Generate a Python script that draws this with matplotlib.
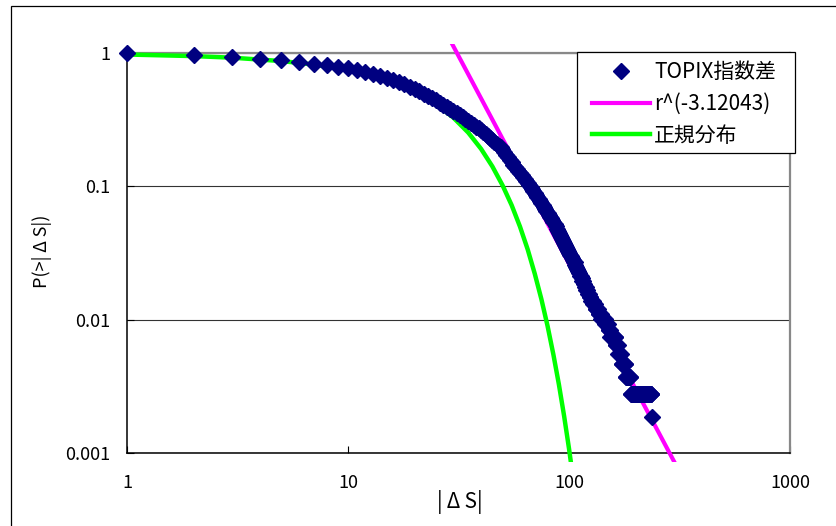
import matplotlib
matplotlib.use('Agg')
import matplotlib.pyplot as plt
from matplotlib.patches import Rectangle
from matplotlib.transforms import Bbox, TransformedBbox
from matplotlib.ticker import FixedLocator, FixedFormatter, NullLocator

plt.rcParams['font.family'] = ['Noto Sans CJK JP', 'DejaVu Sans']

# ---- data ----
# TOPIX: |dS| = 1 .. 237, P(>|dS|)
topix_x = list(range(1, 238))
topix_y = (
    [1.0, 0.966, 0.929, 0.906, 0.882, 0.852, 0.827, 0.809, 0.786, 0.768,
     0.745, 0.725, 0.696, 0.671, 0.648, 0.628, 0.610, 0.582, 0.557, 0.535,
     0.515, 0.496, 0.479, 0.461, 0.442, 0.425, 0.409, 0.394, 0.380, 0.367,
     0.355, 0.344, 0.332, 0.320, 0.309, 0.299, 0.289, 0.280, 0.272, 0.264,
     0.254, 0.245, 0.237, 0.229, 0.222, 0.215, 0.208, 0.202, 0.196, 0.190,
     0.180, 0.172, 0.165, 0.158, 0.151, 0.145, 0.139, 0.134, 0.130, 0.125,
     0.121, 0.1166, 0.1128, 0.1092, 0.1056, 0.1024, 0.0992, 0.0960, 0.0927, 0.0893,
     0.0860, 0.0830, 0.0801, 0.0773, 0.0746, 0.0722, 0.0698, 0.0675, 0.0653, 0.0632,
     0.0612, 0.0592, 0.0574, 0.0557, 0.0541, 0.0519, 0.0500, 0.0482, 0.0465, 0.0448,
     0.0432, 0.0417, 0.0402, 0.0389, 0.0376, 0.0363, 0.0351, 0.0340, 0.0328, 0.0318,
     0.0308, 0.0299, 0.0289, 0.0280, 0.0272,
     0.0269, 0.0259, 0.0250, 0.0241, 0.0231, 0.0222, 0.0213, 0.0213, 0.0204, 0.0194,
     0.0194, 0.0185, 0.0176, 0.0176, 0.0167, 0.0167, 0.0157, 0.0157, 0.0148, 0.0148,
     0.0139, 0.0139, 0.0139, 0.0130, 0.0130, 0.0130, 0.0120, 0.0120, 0.0120, 0.0120,
     0.0111, 0.0111, 0.0111, 0.0111, 0.0102, 0.0102, 0.0102, 0.0102, 0.0102, 0.0102]
    + [0.00926] * 5 + [0.00833] * 3 + [0.00741] * 9 + [0.00648] * 4
    + [0.00556] * 6 + [0.00463] * 8 + [0.00370] * 9 + [0.00278] * 47
    + [0.00185]
)

# normal distribution curve
normal_x = [1, 2, 3, 5, 7, 10, 15, 20, 25, 30, 35, 40, 45, 50, 55, 60,
            65, 70, 75, 80, 85, 90, 95, 100, 105]
normal_y = [0.974, 0.948, 0.922, 0.870, 0.819, 0.744, 0.624, 0.513, 0.414,
            0.327, 0.253, 0.191, 0.141, 0.102, 0.0723, 0.0499, 0.0337,
            0.0221, 0.01425, 0.00895, 0.00547, 0.00327, 0.0019, 0.00108, 0.0006]

# power law line r^(-3.12043)
power_x = [28, 310]
power_y = [1.39, 0.00077]

labels = ['TOPIX指数差', 'r^(-3.12043)', '正規分布']
xticks = [1, 10, 100, 1000]
xtick_labels = ['1', '10', '100', '1000']
yticks = [0.001, 0.01, 0.1, 1]
ytick_labels = ['0.001', '0.01', '0.1', '1']

# ---- figure ----
W, H = 836, 526
fig = plt.figure(figsize=(W / 100, H / 100), dpi=100)
ax = fig.add_axes([127 / W, 1 - 453 / H, 663 / W, 400 / H])
ax.set_xscale('log')
ax.set_yscale('log')
ax.set_xlim(1, 1000)
ax.set_ylim(0.001, 1)

clip = TransformedBbox(Bbox([[0.0, -0.022], [1.0, 1.022]]), ax.transAxes)

l_green, = ax.plot(normal_x, normal_y, color='#00FF00', lw=3.2, label=labels[2], zorder=3)
l_mag, = ax.plot(power_x, power_y, color='#FF00FF', lw=3.0, label=labels[1], zorder=3)
for ln in (l_green, l_mag):
    ln.set_clip_box(clip)
l_dots, = ax.plot(topix_x, topix_y, ls='none', marker='D', ms=8.1, color='#000080',
                  mec='#000080', label=labels[0], zorder=4, clip_on=False)

ax.xaxis.set_major_locator(FixedLocator(xticks))
ax.xaxis.set_major_formatter(FixedFormatter(xtick_labels))
ax.yaxis.set_major_locator(FixedLocator(yticks))
ax.yaxis.set_major_formatter(FixedFormatter(ytick_labels))
ax.xaxis.set_minor_locator(NullLocator())
ax.yaxis.set_minor_locator(NullLocator())
ax.tick_params(which='major', direction='in', length=5, width=0.8, labelsize=13, color='black')
ax.tick_params(axis='x', pad=15)
ax.tick_params(axis='y', pad=12)

ax.yaxis.grid(True, color='#333333', lw=0.8)
ax.set_axisbelow(True)
for s in ('top', 'right'):
    ax.spines[s].set_color('#888888')
    ax.spines[s].set_linewidth(1.6)
for s in ('left', 'bottom'):
    ax.spines[s].set_color('black')
    ax.spines[s].set_linewidth(1.1)

fig.text(42 / W, 1 - 251 / H, 'P(>|\u2009Δ\u2009S|)', rotation=90, ha='center', va='center',
         fontsize=13)
fig.text(460 / W, 1 - 502 / H, '|\u2009Δ\u2009S|', ha='center', va='center', fontsize=15)

# legend box drawn by hand, entries placed inside it
box = Rectangle((577 / W, 1 - 153 / H), 218 / W, 101 / H, transform=fig.transFigure,
                facecolor='white', edgecolor='black', lw=0.9, zorder=9, clip_on=False)
ax.add_artist(box)
leg = ax.legend(handles=[l_dots, l_mag, l_green], loc='upper left',
                bbox_to_anchor=(592 / W, 1 - 61 / H), bbox_transform=fig.transFigure,
                borderaxespad=0, borderpad=0, fontsize=15, numpoints=1,
                handlelength=2.78, handletextpad=0.2, labelspacing=0.47,
                frameon=False)
leg.set_zorder(10)

# chart area border
fig.patches.append(Rectangle((11 / W, -0.1), 1.2, 1.1 - 5.5 / H, transform=fig.transFigure,
                             fill=False, ec='black', lw=0.9))

fig.savefig('out.png', dpi=100)
